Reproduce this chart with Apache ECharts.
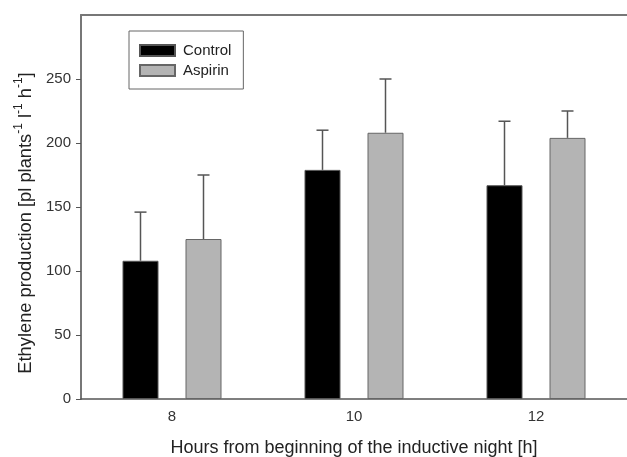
<!DOCTYPE html>
<html><head><meta charset="utf-8">
<script src="https://cdn.jsdelivr.net/npm/echarts@6/dist/echarts.min.js"></script>
<style>html,body{margin:0;padding:0;background:#fff}#c{width:627px;height:457px}</style>
</head><body><div id="c"></div>
<script>
const categories = ['8', '10', '12'];
const controlValues = [108, 179, 167];
const controlErrTop = [146, 210, 217];
const aspirinValues = [125, 208, 204];
const aspirinErrTop = [175, 250, 225];
const yTicks = [0, 50, 100, 150, 200, 250];

const chart = echarts.init(document.getElementById('c'));
const FONT = 'Liberation Sans, Arial, sans-serif';
const BAR_W = 36;
const GAP = 27;

function errSeries(name, vals, tops, offsetSign) {
  return {
    type: 'custom', name: name + ' err', silent: true, z: 1,
    data: vals.map((v, i) => [i, v, tops[i]]),
    renderItem: function (params, api) {
      const base = api.coord([api.value(0), api.value(1)]);
      const top = api.coord([api.value(0), api.value(2)]);
      const x = base[0] + offsetSign * (BAR_W + GAP) / 2;
      return {
        type: 'group', children: [
          { type: 'line', shape: { x1: x, y1: base[1], x2: x, y2: top[1] }, style: { stroke: '#555', lineWidth: 1.5 } },
          { type: 'line', shape: { x1: x - 6, y1: top[1], x2: x + 6, y2: top[1] }, style: { stroke: '#555', lineWidth: 1.5 } }
        ]
      };
    }
  };
}

chart.setOption({
  animation: false,
  textStyle: { fontFamily: FONT },
  grid: { left: 81, right: 0, top: 15, bottom: 58, outerBoundsMode: 'none', containLabel: false },
  legend: {
    left: 129, top: 31, orient: 'vertical',
    data: ['Control', 'Aspirin'],
    icon: 'rect',
    itemWidth: 35, itemHeight: 11, itemGap: 5,
    padding: [12, 12, 11, 10],
    borderColor: '#666', borderWidth: 1,
    textStyle: { fontSize: 15, color: '#222', fontFamily: FONT, padding: [0, 0, 0, 3] }
  },
  xAxis: [{
    type: 'category', data: categories,
    axisTick: { show: false },
    axisLine: { lineStyle: { color: '#555', width: 1.5 } },
    axisLabel: { fontSize: 15, color: '#333', margin: 10, fontFamily: FONT },
    name: 'Hours from beginning of the inductive night [h]',
    nameLocation: 'middle', nameGap: 40,
    nameTextStyle: { fontSize: 18, color: '#222', fontFamily: FONT }
  }, {
    type: 'category', data: categories, position: 'top',
    axisTick: { show: false }, axisLabel: { show: false },
    axisLine: { show: true, lineStyle: { color: '#777', width: 2 } }
  }],
  yAxis: {
    type: 'value', min: 0, max: 300, interval: 50,
    axisLine: { show: true, lineStyle: { color: '#777', width: 2 } },
    axisTick: { show: true, length: 5, customValues: yTicks, lineStyle: { color: '#555' } },
    axisLabel: { fontSize: 15, color: '#333', margin: 10, customValues: yTicks, fontFamily: FONT },
    splitLine: { show: false },
    name: '{t|Ethylene production [pl plants}{s|-1}{t| l}{s|-1}{t| h}{s|-1}{t|]}',
    nameLocation: 'middle', nameGap: 45,
    nameTextStyle: {
      fontSize: 18.3, color: '#222', fontFamily: FONT, padding: [0, 32, 0, 0],
      rich: {
        t: { fontSize: 18.3, color: '#222', fontFamily: FONT, lineHeight: 22, verticalAlign: 'bottom' },
        s: { fontSize: 12, color: '#222', fontFamily: FONT, lineHeight: 22, verticalAlign: 'top' }
      }
    }
  },
  series: [
    { type: 'bar', name: 'Control', data: controlValues, barWidth: BAR_W, barGap: (GAP / BAR_W * 100) + '%', z: 2,
      itemStyle: { color: '#000', borderColor: '#555', borderWidth: 1 } },
    { type: 'bar', name: 'Aspirin', data: aspirinValues, barWidth: BAR_W, z: 2,
      itemStyle: { color: '#b4b4b4', borderColor: '#666', borderWidth: 1 } },
    errSeries('Control', controlValues, controlErrTop, -1),
    errSeries('Aspirin', aspirinValues, aspirinErrTop, 1)
  ]
});
</script></body></html>
